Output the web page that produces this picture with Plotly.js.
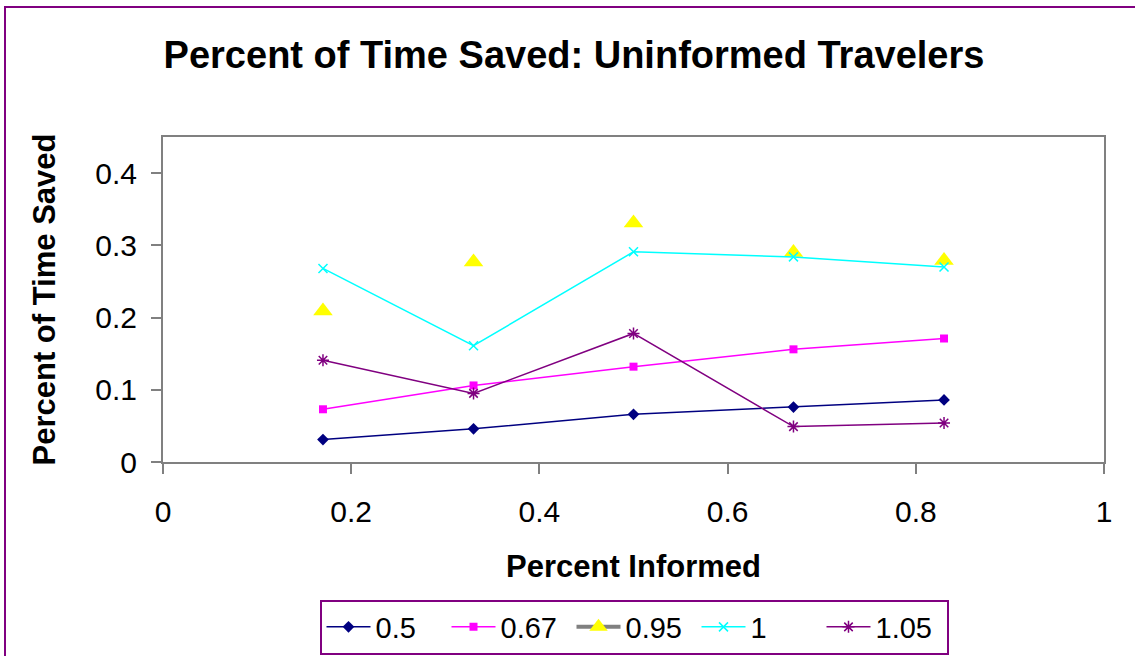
<!DOCTYPE html>
<html>
<head>
<meta charset="utf-8">
<script src="https://cdn.plot.ly/plotly-3.0.1.min.js"></script>
<style>
  html, body { margin: 0; padding: 0; background: #ffffff; }
  #chart { width: 1135px; height: 656px; }
</style>
</head>
<body>
<div id="chart"></div>
<script>
// ---- Data ----
const percentInformed = [0.17, 0.33, 0.5, 0.67, 0.83];
const seriesNames = ["0.5", "0.67", "0.95", "1", "1.05"];
const saved_0_5  = [0.031, 0.046, 0.066, 0.076, 0.086];
const saved_0_67 = [0.073, 0.106, 0.132, 0.156, 0.171];
const saved_0_95 = [0.209, 0.277, 0.331, 0.290, 0.279];
const saved_1    = [0.268, 0.161, 0.291, 0.284, 0.270];
const saved_1_05 = [0.141, 0.095, 0.178, 0.049, 0.054];
const xTickVals = [0, 0.2, 0.4, 0.6, 0.8, 1];
const xTickText = ["0", "0.2", "0.4", "0.6", "0.8", "1"];
const yTickVals = [0, 0.1, 0.2, 0.3, 0.4];
const yTickText = ["0", "0.1", "0.2", "0.3", "0.4"];

const FONT = "Liberation Sans, Arial, sans-serif";
const GRAY = "#808080";
const PURPLE = "#800080";

const traces = [
  {
    x: percentInformed, y: saved_0_5, name: seriesNames[0], type: "scatter", mode: "lines+markers",
    line: { color: "#000080", width: 1.5 },
    marker: { symbol: "diamond", size: 9, color: "#000080" }
  },
  {
    x: percentInformed, y: saved_0_67, name: seriesNames[1], type: "scatter", mode: "lines+markers",
    line: { color: "#FF00FF", width: 1.5 },
    marker: { symbol: "square", size: 8, color: "#FF00FF" }
  },
  {
    x: percentInformed, y: saved_0_95, name: seriesNames[2], type: "scatter", mode: "markers",
    showlegend: false, legendgroup: "g095",
    marker: { symbol: "triangle-up", size: 17, color: "#FFFF00" }
  },
  {
    // legend entry for the 0.95 series (grey line + yellow triangle, as in the reference key)
    x: [null], y: [null], name: seriesNames[2], type: "scatter", mode: "lines+markers",
    legendgroup: "g095",
    line: { color: GRAY, width: 4 },
    marker: { symbol: "triangle-up", size: 17, color: "#FFFF00" }
  },
  {
    x: percentInformed, y: saved_1, name: seriesNames[3], type: "scatter", mode: "lines+markers",
    line: { color: "#00FFFF", width: 1.5 },
    marker: { symbol: "x-thin-open", size: 9, color: "#00FFFF", line: { color: "#00FFFF", width: 1.5 } }
  },
  {
    x: percentInformed, y: saved_1_05, name: seriesNames[4], type: "scatter", mode: "lines+markers",
    line: { color: PURPLE, width: 1.5 },
    marker: { symbol: "asterisk-open", size: 10, color: PURPLE, line: { color: PURPLE, width: 1.5 } }
  }
];

const L = 163, R = 31, T = 137, B = 194;
const W = 1135, H = 656;
const pw = W - L - R, ph = H - T - B;
const px = v => (v - L) / pw;
const py = v => (H - B - v) / ph;

const layout = {
  width: W, height: H,
  margin: { l: L, r: R, t: T, b: B, pad: 0, autoexpand: false },
  paper_bgcolor: "#ffffff",
  plot_bgcolor: "#ffffff",
  font: { family: FONT, color: "#000000", size: 30 },
  title: {
    text: "<b>Percent of Time Saved: Uninformed Travelers</b>",
    font: { family: FONT, size: 38, color: "#000000" },
    x: 574 / W, xref: "container", xanchor: "center",
    y: 1 - 55 / H, yref: "container", yanchor: "middle"
  },
  xaxis: {
    range: [0, 1], automargin: false,
    tickvals: xTickVals, ticktext: xTickText,
    ticks: "outside", ticklen: 10, tickwidth: 2, tickcolor: GRAY,
    showline: true, linecolor: GRAY, linewidth: 2, mirror: true,
    showgrid: false, zeroline: false,
    tickfont: { family: FONT, size: 30, color: "#000000" },
    ticklabelstandoff: 12,
    title: { text: "<b>Percent Informed</b>", font: { family: FONT, size: 31, color: "#000000" }, standoff: 28 },
    fixedrange: true
  },
  yaxis: {
    range: [0, 0.45], automargin: false,
    tickvals: yTickVals, ticktext: yTickText,
    ticks: "outside", ticklen: 10, tickwidth: 2, tickcolor: GRAY,
    showline: true, linecolor: GRAY, linewidth: 2, mirror: true,
    showgrid: false, zeroline: false,
    tickfont: { family: FONT, size: 30, color: "#000000" },
    ticklabelstandoff: 8,
    title: { text: "<b>Percent of Time Saved</b>", font: { family: FONT, size: 31, color: "#000000" }, standoff: 30 },
    fixedrange: true
  },
  showlegend: true,
  legend: {
    orientation: "h",
    x: 634 / W, xanchor: "center", xref: "container",
    y: 1.5 / H, yanchor: "bottom", yref: "container",
    bordercolor: PURPLE, borderwidth: 2, bgcolor: "#ffffff",
    font: { family: FONT, size: 29, color: "#000000" },
    itemwidth: 44, tracegroupgap: 0,
    entrywidth: 66, entrywidthmode: "pixels",
    traceorder: "normal"
  },
  shapes: [
    {
      type: "rect", xref: "paper", yref: "paper", layer: "below",
      x0: px(5), x1: px(W + 10), y0: py(H + 10), y1: py(7),
      line: { color: PURPLE, width: 2 }, fillcolor: "rgba(0,0,0,0)"
    }
  ]
};

Plotly.newPlot("chart", traces, layout, { displayModeBar: false, staticPlot: true });
</script>
</body>
</html>
